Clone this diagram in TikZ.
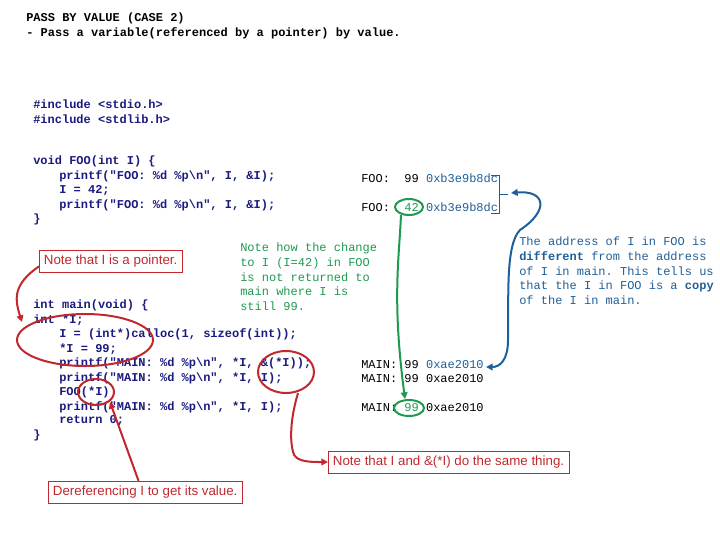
\documentclass[tikz,border=0pt]{standalone}
\usepackage{fontspec}
\setmonofont{Liberation Mono}
\setsansfont{Liberation Sans}
\usetikzlibrary{arrows.meta}
\definecolor{codeblue}{HTML}{1A1A80}
\definecolor{nblue}{HTML}{1F5F99}
\definecolor{ngreen}{HTML}{1E9A50}
\definecolor{nred}{HTML}{C0282D}
\begin{document}
\begin{tikzpicture}[x=0.75pt,y=-0.75pt,
  code/.style={anchor=west,inner sep=0,font=\ttfamily\bfseries\fontsize{9}{11}\selectfont,text=codeblue},
  title/.style={anchor=west,inner sep=0,font=\ttfamily\bfseries\fontsize{9}{11}\selectfont,text=black},
  outtxt/.style={anchor=west,inner sep=0,font=\ttfamily\fontsize{9}{11}\selectfont},
  note/.style={anchor=north west,inner sep=0,align=left,font=\ttfamily\fontsize{9}{10.9}\selectfont},
  redbox/.style={draw=nred,text=nred,font=\sffamily\fontsize{10}{12}\selectfont,inner sep=3.5pt,anchor=west},
  redline/.style={draw=nred,line width=1.5pt},
  grn/.style={draw=ngreen,line width=1.5pt},
  blu/.style={draw=nblue,line width=1.5pt}]
\useasboundingbox (0,0) rectangle (720,540);
\node[title] (t1) at (26,18) {PASS BY VALUE (CASE 2)};
\node[title] (t2) at (26,33) {- Pass a variable(referenced by a pointer) by value.};
\node[code] (c1) at (33,104) {\#include <stdio.h>};
\node[code] (c2) at (33,119) {\#include <stdlib.h>};
\node[code] (c3) at (33,161) {void FOO(int I) \{};
\node[code] (c4) at (59,176) {printf("FOO: \%d \%p\textbackslash n", I, \&I);};
\node[code] (c5) at (59,191) {I = 42;};
\node[code] (c6) at (59,205) {printf("FOO: \%d \%p\textbackslash n", I, \&I);};
\node[code] (c7) at (33,219) {\}};
\node[code] (m1) at (33,305) {int main(void) \{};
\node[code] (m2) at (33,320) {int *I;};
\node[code] (m3) at (59,334) {I = (int*)calloc(1, sizeof(int));};
\node[code] (m4) at (59,349) {*I = 99;};
\node[code] (m5) at (59,363) {printf("MAIN: \%d \%p\textbackslash n", *I, \&(*I));};
\node[code] (m6) at (59,378) {printf("MAIN: \%d \%p\textbackslash n", *I, I);};
\node[code] (m7) at (59,392) {FOO(*I)};
\node[code] (m8) at (59,407) {printf("MAIN: \%d \%p\textbackslash n", *I, I);};
\node[code] (m9) at (59,421) {return 0;};
\node[code] (m10) at (33,435) {\}};
% outputs
\node[outtxt] (o1) at (361,178) {FOO:\ \ 99 \textcolor{nblue}{0xb3e9b8dc}};
\node[outtxt] (o2) at (361,207) {FOO:\ \ \textcolor{ngreen}{42} \textcolor{nblue}{0xb3e9b8dc}};
\node[outtxt] (o3) at (361,365) {MAIN:\ 99 \textcolor{nblue}{0xae2010}};
\node[outtxt] (o4) at (361,379) {MAIN:\ 99 0xae2010};
\node[outtxt] (o5) at (361,408) {MAIN:\ \textcolor{ngreen}{99} 0xae2010};
% notes
\node[note,text=ngreen] (g) at (240,243) {Note how the change\\to I (I=42) in FOO\\is not returned to\\main where I is\\still 99.};
\node[note,text=nblue] (b) at (519,237) {The address of I in FOO is\\\textbf{different} from the address\\of I in main. This tells us\\that the I in FOO is a \textbf{copy}\\of the I in main.};
\node[redbox] (r1) at (39,261) {Note that I is a pointer.};
\node[redbox] (r2) at (328,462) {Note that I and \&(*I) do the same thing.};
\node[redbox] (r3) at (48,492) {Dereferencing I to get its value.};
% red ellipses
\draw[redline] (85,340) ellipse [x radius=68,y radius=26];
\draw[redline] (286,372) ellipse [x radius=28,y radius=21];
\draw[redline] (96,392) ellipse [x radius=18,y radius=13];
\coordinate (a1) at (22,322);
\draw[redline,-{Triangle[length=5pt,width=5pt]}] ([yshift=-4pt]r1.west) .. controls (12,285) and (15,300) .. (a1);
\coordinate (a2) at (298,393);
\draw[redline,-{Triangle[length=5pt,width=5pt]}] (a2) .. controls (290,420) and (290,440) .. (293,452) .. controls (295,462) and (310,462) .. (r2.west);
\coordinate (a3) at (110,402);
\draw[redline,-{Triangle[length=5pt,width=5pt]}] ([xshift=-5pt]r3.north) -- (a3);
% green
\draw[grn] (409,207) ellipse [x radius=14,y radius=8];
\draw[grn] (409,408) ellipse [x radius=15,y radius=8];
\coordinate (g1) at (401,215);
\coordinate (g2) at (405,399);
\draw[grn,-{Triangle[length=5pt,width=5pt]}] (g1) .. controls (399,260) and (392,300) .. (g2);
% blue bracket
\coordinate (k1) at (491,175); \coordinate (k2) at (491,213);
\draw[nblue] (k1) -- (499,175) -- (499,213) -- (k2);
\draw[nblue] (499,194) -- (508,194);
\coordinate (bA) at (511,193);
\coordinate (bB) at (486,367);
\draw[blu,{Triangle[length=5pt,width=5pt]}-{Triangle[length=5pt,width=5pt]}] (bA) .. controls (545,190) and (550,210) .. (520,230) .. controls (505,245) and (509,300) .. (508,340) .. controls (508,360) and (500,367) .. (bB);
\end{tikzpicture}
\end{document}
